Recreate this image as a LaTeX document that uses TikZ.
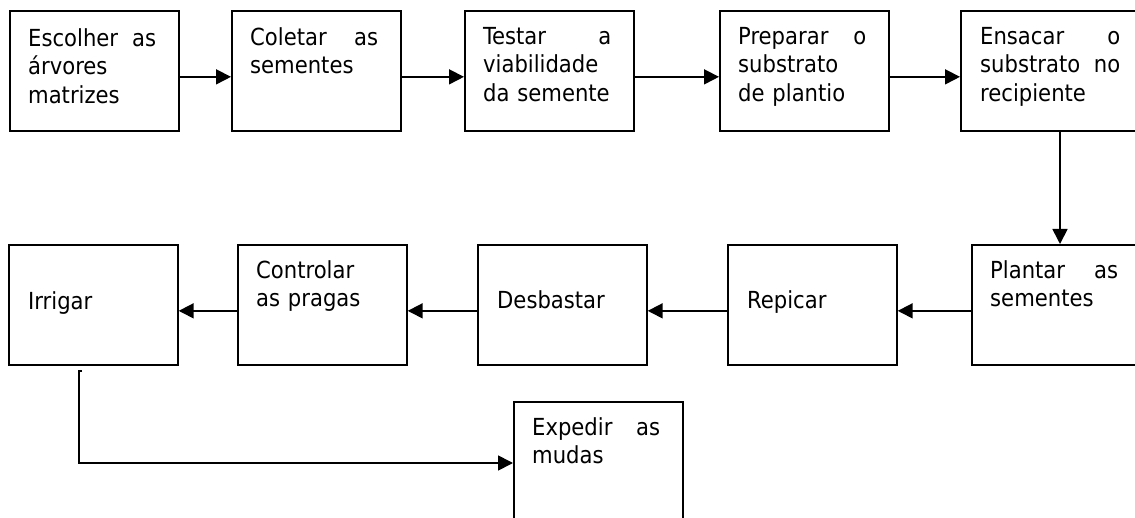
\documentclass[tikz,border=0pt]{standalone}
\usepackage{fontspec}
\setmainfont{DejaVu Sans Condensed}
\usepackage{tikz}
\usetikzlibrary{arrows.meta,positioning,calc}

\newcommand{\steptext}{\fontsize{23.5}{28.5}\selectfont}

\begin{document}
\begin{tikzpicture}[x=1pt,y=-1pt,
 stepbox/.style={draw,line width=1.7pt,minimum width=169pt,minimum height=120pt,inner sep=0pt,anchor=north west},
 txt/.style={anchor=north west,inner sep=0pt,text width=128pt,align=left,font=\steptext},
 arr/.style={line width=1.7pt,-{Triangle[length=15pt,width=15pt]}}]
 \useasboundingbox (0,0) rectangle (1135,518);
 \clip (0,0) rectangle (1135,518);
 % row 1
 \node[stepbox] (b1) at (9,10) {};
 \node[stepbox] (b2) at (231,10) {};
 \node[stepbox] (b3) at (464,10) {};
 \node[stepbox] (b4) at (719,10) {};
 \node[stepbox,minimum width=190pt] (b5) at (960,10) {};
 \node[txt] (t1) at ([xshift=19pt,yshift=-18pt]b1.north west) {Escolher\hfill as\\árvores\\matrizes};
 \node[txt] (t2) at ([xshift=19pt,yshift=-17pt]b2.north west) {Coletar\hfill as\\sementes};
 \node[txt] (t3) at ([xshift=19pt,yshift=-17pt]b3.north west) {Testar\hfill a\\viabilidade\\da semente};
 \node[txt] (t4) at ([xshift=19pt,yshift=-17pt]b4.north west) {Preparar\hfill o\\substrato\\de plantio};
 \node[txt,text width=140pt] (t5) at ([xshift=20pt,yshift=-17pt]b5.north west) {Ensacar\hfill o\\substrato\hfill no\\recipiente};
 \draw[arr] ([yshift=-6pt]b1.east) -- ([yshift=-6pt]b2.west);
 \draw[arr] ([yshift=-6pt]b2.east) -- ([yshift=-6pt]b3.west);
 \draw[arr] ([yshift=-6pt]b3.east) -- ([yshift=-6pt]b4.west);
 \draw[arr] ([yshift=-6pt]b4.east) -- ([yshift=-6pt]b5.west);
 % row 2
 \node[stepbox] (c1) at (8,244) {};
 \node[stepbox] (c2) at (237,244) {};
 \node[stepbox] (c3) at (477,244) {};
 \node[stepbox] (c4) at (727,244) {};
 \node[stepbox,minimum width=190pt] (c5) at (971,244) {};
 \node[txt] (s1) at ([xshift=20pt,yshift=-47pt]c1.north west) {Irrigar};
 \node[txt] (s2) at ([xshift=19pt,yshift=-16pt]c2.north west) {Controlar\\as pragas};
 \node[txt] (s3) at ([xshift=20pt,yshift=-46pt]c3.north west) {Desbastar};
 \node[txt] (s4) at ([xshift=20pt,yshift=-46pt]c4.north west) {Repicar};
 \node[txt] (s5) at ([xshift=19pt,yshift=-16pt]c5.north west) {Plantar\hfill as\\sementes};
 \draw[arr] ([xshift=100pt]b5.south west) -- ([xshift=89pt]c5.north west);
 \draw[arr] ([yshift=-6pt]c5.west) -- ([yshift=-6pt]c4.east);
 \draw[arr] ([yshift=-6pt]c4.west) -- ([yshift=-6pt]c3.east);
 \draw[arr] ([yshift=-6pt]c3.west) -- ([yshift=-6pt]c2.east);
 \draw[arr] ([yshift=-6pt]c2.west) -- ([yshift=-6pt]c1.east);
 % last step
 \node[stepbox,minimum height=140pt] (e1) at (513,401) {};
 \node[txt] (u1) at ([xshift=19pt,yshift=-16pt]e1.north west) {Expedir\hfill as\\mudas};
 \coordinate (k) at ([xshift=71pt,yshift=-5pt]c1.south west);
 \coordinate (m) at ([yshift=-62pt]e1.north west);
 \draw[arr] ([xshift=3pt]k) -- (k) |- (m);
\end{tikzpicture}
\end{document}
